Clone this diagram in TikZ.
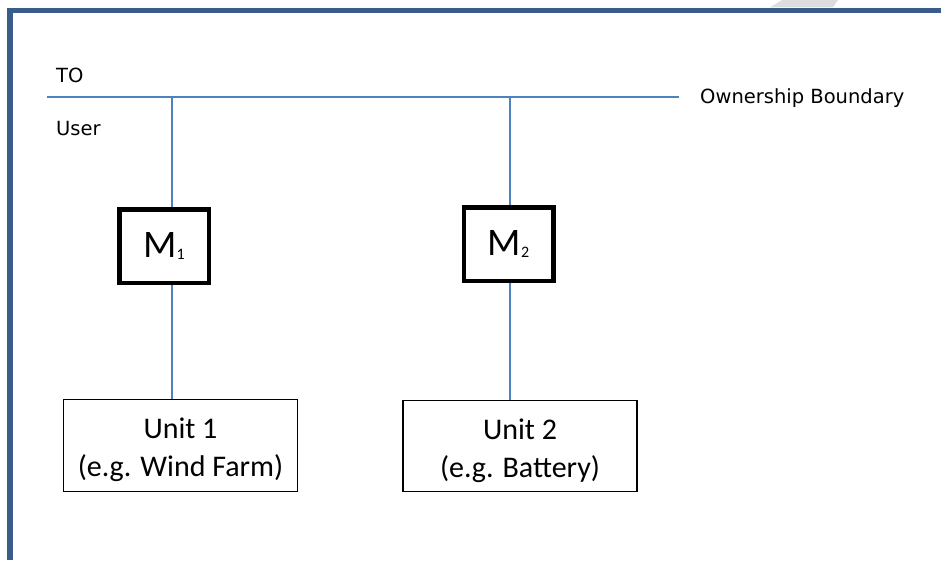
\documentclass[tikz,border=0pt]{standalone}
\usepackage{fontspec}
\setmainfont{Carlito}
\newfontfamily\labelfont{DejaVu Sans}
\definecolor{frameblue}{RGB}{56,93,138}
\definecolor{lineblue}{RGB}{79,129,189}
\definecolor{shadegray}{RGB}{221,221,221}
\usetikzlibrary{positioning}

\begin{document}
\begin{tikzpicture}[
  x=1pt,y=-1pt,
  feeder/.style={draw=lineblue,line width=1.4pt},
  meterbox/.style={draw,line width=4.5pt,minimum width=89.5pt,minimum height=73.5pt,
    inner sep=0pt,font=\fontsize{39}{39}\selectfont},
  unitbox/.style={draw,line width=1.2pt,minimum width=234pt,minimum height=91.5pt,
    align=center,inner sep=0pt,font=\fontsize{30}{38}\selectfont},
  sidelabel/.style={anchor=base west,inner sep=0pt,font=\labelfont\fontsize{19.5}{19.5}\selectfont}
]
  \useasboundingbox (0,0) rectangle (941,560);
  \fill[shadegray] (770,7.3) -- (782,0) -- (838,0) -- (833,7.3) -- cycle;
  \draw[frameblue,line width=5.4pt] (10,560) -- (10,10.5) -- (941,10.5);

  % ownership boundary
  \coordinate (bl) at (47,97);
  \coordinate (br) at (679,97);
  \coordinate (b1) at (172,97);
  \coordinate (b2) at (510,97);
  \draw[feeder] (bl) -- (br);
  \node[sidelabel] (to) at (56,82) {TO};
  \node[sidelabel] (user) at (56,135) {User};
  \node[sidelabel] (own) at (700,103) {Ownership Boundary};

  % meters
  \node[meterbox] (m1) at (164,246) {M{\fontsize{16}{16}\selectfont\raisebox{-2pt}{1}}};
  \node[meterbox] (m2) at (508.5,244) {M{\fontsize{16}{16}\selectfont\raisebox{-2pt}{2}}};

  % units
  \node[unitbox] (u1) at (180.5,445.5) {\rule{0pt}{30pt}Unit 1\\(e.g. Wind Farm)};
  \node[unitbox] (u2) at (520,446) {\rule{0pt}{30pt}Unit 2\\(e.g. Battery)};

  \draw[feeder] (b1) -- (m1.north -| b1);
  \draw[feeder] (m1.south -| b1) -- (u1.north -| b1);
  \draw[feeder] (b2) -- (m2.north -| b2);
  \draw[feeder] (m2.south -| b2) -- (u2.north -| b2);
\end{tikzpicture}
\end{document}
